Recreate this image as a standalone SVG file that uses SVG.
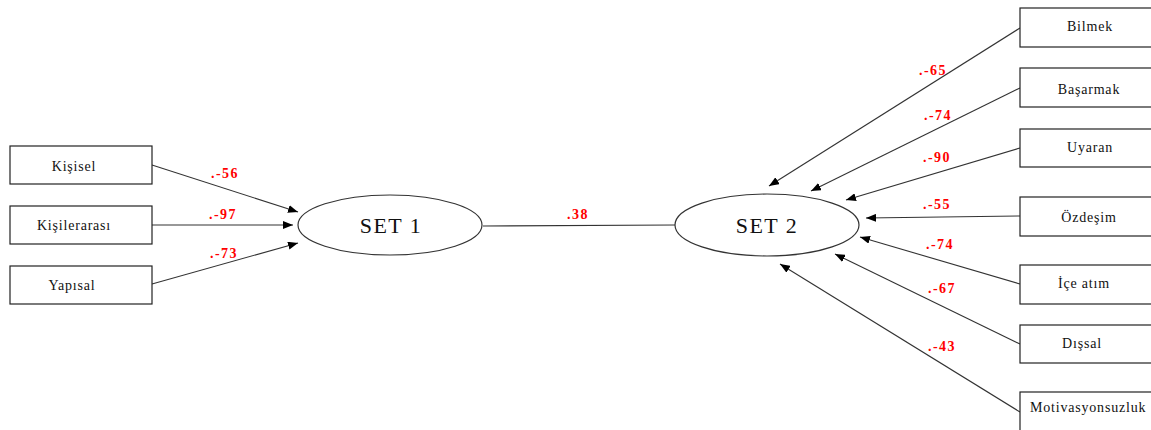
<svg xmlns="http://www.w3.org/2000/svg" width="1151" height="430" viewBox="0 0 1151 430">
  <style>
    .box { fill: #fff; stroke: #222; stroke-width: 1.2; }
    .lat { fill: #fff; stroke: #333; stroke-width: 1.2; }
    .lbl { font-family: "Liberation Serif", "Times New Roman", serif; font-size: 14px; letter-spacing: 0.8px; fill: #111; text-anchor: middle; dominant-baseline: central; }
    .big { font-family: "Liberation Serif", "Times New Roman", serif; font-size: 22px; letter-spacing: 1.5px; fill: #111; text-anchor: middle; dominant-baseline: central; }
    .coef { font-family: "Liberation Serif", "Times New Roman", serif; font-size: 14px; font-weight: bold; letter-spacing: 1.5px; fill: #ff0000; text-anchor: middle; dominant-baseline: central; }
    .edge { stroke: #333; stroke-width: 1.1; fill: none; }
    .arr { marker-end: url(#head); }
  </style>
  <defs>
    <marker id="head" viewBox="0 0 10 8" refX="10" refY="4" markerWidth="10" markerHeight="8" markerUnits="userSpaceOnUse" orient="auto">
      <path d="M0,0 L10,4 L0,8 Z" fill="#000"/>
    </marker>
  </defs>

  <rect width="1151" height="430" fill="#fff"/>

  <!-- connectors -->
  <g id="connectors">
    <line class="edge arr" x1="152" y1="165" x2="298" y2="212"/>
    <line class="edge arr" x1="152" y1="225" x2="293" y2="225"/>
    <line class="edge arr" x1="152" y1="284" x2="298" y2="243"/>
    <line class="edge" x1="483" y1="226" x2="675" y2="225"/>
    <line class="edge arr" x1="1020" y1="28" x2="769" y2="186"/>
    <line class="edge arr" x1="1020" y1="88" x2="811" y2="191"/>
    <line class="edge arr" x1="1020" y1="148" x2="846" y2="200"/>
    <line class="edge arr" x1="1020" y1="216" x2="866" y2="218"/>
    <line class="edge arr" x1="1020" y1="284" x2="860" y2="237"/>
    <line class="edge arr" x1="1020" y1="344" x2="835" y2="254"/>
    <line class="edge arr" x1="1020" y1="412" x2="780" y2="264"/>
  </g>

  <!-- path coefficients -->
  <g id="coefficients">
    <text class="coef" x="225" y="173">.-56</text>
    <text class="coef" x="223" y="214">.-97</text>
    <text class="coef" x="224" y="253">.-73</text>
    <text class="coef" x="578" y="214">.38</text>
    <text class="coef" x="933" y="70">.-65</text>
    <text class="coef" x="938" y="115">.-74</text>
    <text class="coef" x="937" y="157">.-90</text>
    <text class="coef" x="937" y="204">.-55</text>
    <text class="coef" x="940" y="244">.-74</text>
    <text class="coef" x="942" y="288">.-67</text>
    <text class="coef" x="942" y="346">.-43</text>
  </g>

  <!-- left observed variables -->
  <g id="kisisel">
    <rect class="box" x="10" y="146" width="142" height="38"/>
    <text class="lbl" x="74" y="166">Kişisel</text>
  </g>
  <g id="kisilerarasi">
    <rect class="box" x="10" y="206" width="142" height="38"/>
    <text class="lbl" x="74" y="225">Kişilerarası</text>
  </g>
  <g id="yapisal">
    <rect class="box" x="10" y="266" width="142" height="38"/>
    <text class="lbl" x="72" y="285">Yapısal</text>
  </g>

  <!-- canonical variates -->
  <g id="set1">
    <ellipse class="lat" cx="390" cy="225" rx="92" ry="30"/>
    <text class="big" x="391" y="225">SET 1</text>
  </g>
  <g id="set2">
    <ellipse class="lat" cx="767" cy="225" rx="92" ry="31"/>
    <text class="big" x="767" y="225">SET 2</text>
  </g>

  <!-- right observed variables -->
  <g id="bilmek">
    <rect class="box" x="1020" y="8" width="140" height="39"/>
    <text class="lbl" x="1090" y="26">Bilmek</text>
  </g>
  <g id="basarmak">
    <rect class="box" x="1020" y="68" width="140" height="39"/>
    <text class="lbl" x="1089" y="89">Başarmak</text>
  </g>
  <g id="uyaran">
    <rect class="box" x="1020" y="129" width="140" height="38"/>
    <text class="lbl" x="1090" y="147">Uyaran</text>
  </g>
  <g id="ozdesim">
    <rect class="box" x="1020" y="197" width="140" height="39"/>
    <text class="lbl" x="1089" y="217">Özdeşim</text>
  </g>
  <g id="ice-atim">
    <rect class="box" x="1020" y="265" width="140" height="39"/>
    <text class="lbl" x="1084" y="283">İçe atım</text>
  </g>
  <g id="dissal">
    <rect class="box" x="1020" y="325" width="140" height="38"/>
    <text class="lbl" x="1082" y="343">Dışsal</text>
  </g>
  <g id="motivasyonsuzluk">
    <rect class="box" x="1020" y="392" width="140" height="50"/>
    <text class="lbl" x="1030" y="407" style="text-anchor:start">Motivasyonsuzluk</text>
  </g>
</svg>
